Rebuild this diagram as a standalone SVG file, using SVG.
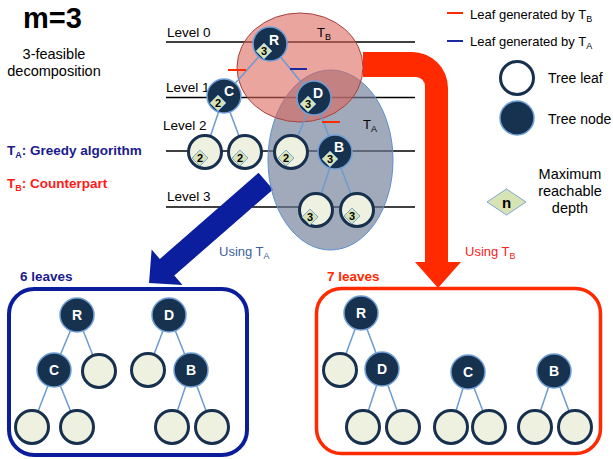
<svg xmlns="http://www.w3.org/2000/svg" width="613" height="459" viewBox="0 0 613 459">
<defs>
<style>
text{font-family:"Liberation Sans",Arial,sans-serif}
.node circle{fill:#17324f;stroke:#6f9fd6;stroke-width:1.5}
.leaf circle{fill:#eef0e0;stroke:#17304d;stroke-width:3}
.node text{fill:#fff;font-weight:bold;font-size:14px;text-anchor:middle}
.dia{fill:#d8e3b4;stroke:#7ea7d6;stroke-width:1}
.node text.dig,.leaf text.dig,text.dig{fill:#000;font-weight:bold;font-size:11px;text-anchor:middle}
.edge{stroke:#6a9bd3;stroke-width:1.5;fill:none}
.lvl{stroke:#000;stroke-width:1.5}
.t13{font-size:13.5px;fill:#000}
.leg{font-size:13px;fill:#000}
</style>
<polygon id="dm" points="0,-8 8,0 0,8 -8,0"/>
</defs>
<rect width="613" height="459" fill="#fff"/>

<!-- left texts -->
<text x="23" y="28" font-size="29" font-weight="bold">m=3</text>
<text x="54" y="59" font-size="14.5" text-anchor="middle">3-feasible</text>
<text x="54" y="76" font-size="14.5" text-anchor="middle">decomposition</text>
<text x="7" y="155" font-size="13.5" font-weight="bold" fill="#1a1a8c">T<tspan font-size="9" dy="3">A</tspan><tspan dy="-3">: Greedy algorithm</tspan></text>
<text x="7" y="188" font-size="13.5" font-weight="bold" fill="#ff1a1a">T<tspan font-size="9" dy="3">B</tspan><tspan dy="-3">: Counterpart</tspan></text>

<!-- level lines -->
<g id="levels">
<line class="lvl" x1="166" y1="42" x2="415" y2="42"/>
<line class="lvl" x1="166" y1="97.5" x2="415" y2="97.5"/>
<line class="lvl" x1="166" y1="151" x2="415" y2="151"/>
<line class="lvl" x1="166" y1="207" x2="415" y2="207"/>
<text class="t13" x="167" y="37">Level 0</text>
<text class="t13" x="166" y="92">Level 1</text>
<text class="t13" x="163" y="130">Level 2</text>
<text class="t13" x="167" y="201">Level 3</text>
</g>

<!-- big arrows -->
<g id="arrows">
<path d="M363 52 H412 A36 36 0 0 1 448 88 V262 H461 L438 288 L415 262 H425 V86 A9 9 0 0 0 416 77 H363 Z" fill="#ff2a00"/>
<polygon transform="translate(149,283) rotate(138.9)" points="-155,-11 -24,-11 -24,-23.5 0,0 -24,23.5 -24,11 -155,11" fill="#0b1f9e"/>
<text x="219" y="256" font-size="13" fill="#3b5fa0">Using T<tspan font-size="9" dy="3">A</tspan></text>
<text x="465" y="256" font-size="13" fill="#ff2020">Using T<tspan font-size="9" dy="3">B</tspan></text>
</g>

<!-- ellipses -->
<g id="TA">
<ellipse cx="330.5" cy="160" rx="62.5" ry="90" fill="rgb(110,125,150)" fill-opacity="0.65" stroke="#5b8fd0" stroke-width="1"/>
</g>
<g id="TB">
<ellipse cx="300" cy="67.5" rx="63" ry="54.5" fill="rgb(220,100,90)" fill-opacity="0.58" stroke="#a84040" stroke-width="1"/>
<text x="317" y="37" font-size="13" fill="#000">T<tspan font-size="9" dy="3">B</tspan></text>
</g>
<text x="363" y="129" font-size="13" fill="#000">T<tspan font-size="9" dy="3">A</tspan></text>

<!-- connectors -->
<g id="connectors">
<line class="edge" x1="270" y1="44" x2="224" y2="96"/>
<line class="edge" x1="270" y1="44" x2="314" y2="98"/>
<line class="edge" x1="224" y1="96" x2="205" y2="152"/>
<line class="edge" x1="224" y1="96" x2="245" y2="152"/>
<line class="edge" x1="314" y1="98" x2="291" y2="152"/>
<line class="edge" x1="314" y1="98" x2="335" y2="152"/>
<line class="edge" x1="335" y1="152" x2="316" y2="210"/>
<line class="edge" x1="335" y1="152" x2="357" y2="210"/>
<line x1="228" y1="70" x2="246" y2="70" stroke="#ff2a00" stroke-width="2"/>
<line x1="290" y1="69" x2="307" y2="69" stroke="#1a2aa0" stroke-width="2"/>
<line x1="322" y1="122" x2="340" y2="122" stroke="#ff2a00" stroke-width="2"/>
<!-- bottom left -->
<line class="edge" x1="77" y1="315" x2="54" y2="370"/>
<line class="edge" x1="77" y1="315" x2="99" y2="371"/>
<line class="edge" x1="169" y1="315" x2="148" y2="370"/>
<line class="edge" x1="169" y1="315" x2="191" y2="370"/>
<line class="edge" x1="54" y1="370" x2="32" y2="427"/>
<line class="edge" x1="54" y1="370" x2="77" y2="427"/>
<line class="edge" x1="191" y1="370" x2="172" y2="427"/>
<line class="edge" x1="191" y1="370" x2="212" y2="427"/>
<!-- bottom right -->
<line class="edge" x1="361" y1="313" x2="340" y2="370"/>
<line class="edge" x1="361" y1="313" x2="382" y2="369"/>
<line class="edge" x1="382" y1="369" x2="363" y2="427"/>
<line class="edge" x1="382" y1="369" x2="403" y2="427"/>
<line class="edge" x1="468" y1="372" x2="451" y2="427"/>
<line class="edge" x1="468" y1="372" x2="489" y2="427"/>
<line class="edge" x1="554" y1="371" x2="535" y2="427"/>
<line class="edge" x1="554" y1="371" x2="575" y2="427"/>
</g>

<!-- top tree nodes -->
<g id="nR" class="node"><circle cx="270" cy="44" r="17"/><text x="274" y="45">R</text><use href="#dm" x="264" y="51" class="dia"/><text class="dig" x="264" y="55">3</text></g>
<g id="nC" class="node"><circle cx="224" cy="96" r="17"/><text x="229" y="96">C</text><use href="#dm" x="218" y="103" class="dia"/><text class="dig" x="218" y="107">2</text></g>
<g id="nD" class="node"><circle cx="314" cy="98" r="17"/><text x="318" y="98">D</text><use href="#dm" x="308" y="104" class="dia"/><text class="dig" x="308" y="108">3</text></g>
<g id="nL1" class="leaf"><circle cx="205" cy="152" r="16.5"/><use href="#dm" x="200" y="158" class="dia"/><text class="dig" x="200" y="162">2</text></g>
<g id="nL2" class="leaf"><circle cx="245" cy="152" r="16.5"/><use href="#dm" x="240" y="158" class="dia"/><text class="dig" x="240" y="162">2</text></g>
<g id="nL3" class="leaf"><circle cx="291" cy="152" r="16.5"/><use href="#dm" x="286" y="158" class="dia"/><text class="dig" x="286" y="162">2</text></g>
<g id="nB" class="node"><circle cx="335" cy="152" r="17"/><text x="339" y="152">B</text><use href="#dm" x="330" y="159" class="dia"/><text class="dig" x="330" y="163">3</text></g>
<g id="nL4" class="leaf"><circle cx="316" cy="210" r="16.5"/><use href="#dm" x="310" y="217" class="dia"/><text class="dig" x="310" y="221">3</text></g>
<g id="nL5" class="leaf"><circle cx="357" cy="210" r="16.5"/><use href="#dm" x="352" y="216" class="dia"/><text class="dig" x="352" y="220">3</text></g>

<!-- legend -->
<g id="legend">
<line x1="447" y1="13" x2="463" y2="13" stroke="#ff2a00" stroke-width="2"/>
<text class="leg" x="470" y="19">Leaf generated by T<tspan font-size="9" dy="3">B</tspan></text>
<line x1="447" y1="41" x2="463" y2="41" stroke="#1a2aa0" stroke-width="2"/>
<text class="leg" x="470" y="46">Leaf generated by T<tspan font-size="9" dy="3">A</tspan></text>
<g id="legLeaf" class="leaf"><circle cx="517" cy="78" r="16.5" style="fill:#fff"/></g>
<text x="548" y="83" font-size="14" fill="#000">Tree leaf</text>
<g id="legNode" class="node"><circle cx="517" cy="118" r="17"/></g>
<text x="548" y="124" font-size="14" fill="#000">Tree node</text>
<g id="legDia"><polygon points="506.5,189 526,202 506.5,215 487,202" fill="#d8e3b4" stroke="#7ea7d6" stroke-width="1"/><text x="506.5" y="208" font-size="15" font-weight="bold" text-anchor="middle">n</text></g>
<text x="570" y="179" font-size="14.5" text-anchor="middle">Maximum</text>
<text x="570" y="196" font-size="14.5" text-anchor="middle">reachable</text>
<text x="570" y="213" font-size="14.5" text-anchor="middle">depth</text>
</g>

<!-- bottom boxes -->
<g id="boxA">
<rect x="9" y="289" width="238" height="166" rx="25" fill="none" stroke="#0a1e9b" stroke-width="4"/>
<text x="20" y="281" font-size="13.5" font-weight="bold" fill="#1a1a8c">6 leaves</text>
</g>
<g id="boxB">
<rect x="316.5" y="288.5" width="284" height="165" rx="25" fill="none" stroke="#ff2a00" stroke-width="3.5"/>
<text x="327" y="281" font-size="13.5" font-weight="bold" fill="#ff2a00">7 leaves</text>
</g>

<g id="aR" class="node"><circle cx="77" cy="315" r="17"/><text x="77" y="320">R</text></g>
<g id="aD" class="node"><circle cx="169" cy="315" r="17"/><text x="169" y="320">D</text></g>
<g id="aC" class="node"><circle cx="54" cy="370" r="17"/><text x="54" y="375">C</text></g>
<g id="aL1" class="leaf"><circle cx="99" cy="371" r="16.5"/></g>
<g id="aL2" class="leaf"><circle cx="148" cy="370" r="16.5"/></g>
<g id="aB" class="node"><circle cx="191" cy="370" r="17"/><text x="191" y="375">B</text></g>
<g id="aL3" class="leaf"><circle cx="32" cy="427" r="16.5"/></g>
<g id="aL4" class="leaf"><circle cx="77" cy="427" r="16.5"/></g>
<g id="aL5" class="leaf"><circle cx="172" cy="427" r="16.5"/></g>
<g id="aL6" class="leaf"><circle cx="212" cy="427" r="16.5"/></g>

<g id="bR" class="node"><circle cx="361" cy="313" r="17"/><text x="361" y="318">R</text></g>
<g id="bL1" class="leaf"><circle cx="340" cy="370" r="16.5"/></g>
<g id="bD" class="node"><circle cx="382" cy="369" r="17"/><text x="382" y="374">D</text></g>
<g id="bC" class="node"><circle cx="468" cy="372" r="17"/><text x="468" y="377">C</text></g>
<g id="bB" class="node"><circle cx="554" cy="371" r="17"/><text x="554" y="376">B</text></g>
<g id="bL2" class="leaf"><circle cx="363" cy="427" r="16.5"/></g>
<g id="bL3" class="leaf"><circle cx="403" cy="427" r="16.5"/></g>
<g id="bL4" class="leaf"><circle cx="451" cy="427" r="16.5"/></g>
<g id="bL5" class="leaf"><circle cx="489" cy="427" r="16.5"/></g>
<g id="bL6" class="leaf"><circle cx="535" cy="427" r="16.5"/></g>
<g id="bL7" class="leaf"><circle cx="575" cy="427" r="16.5"/></g>
</svg>
